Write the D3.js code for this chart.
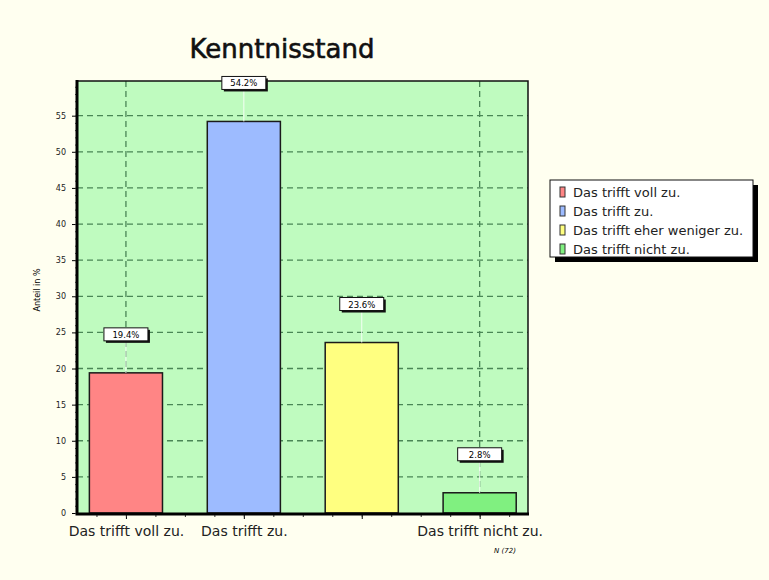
<!DOCTYPE html>
<html>
<head>
<meta charset="utf-8">
<script src="https://cdn.jsdelivr.net/npm/d3@7"></script>
<style>
  body { margin: 0; background: #fffff0; }
  svg { display: block; }
</style>
</head>
<body>
<svg width="769" height="580"></svg>
<script>
var categories = ["Das trifft voll zu.", "Das trifft zu.", "Das trifft eher weniger zu.", "Das trifft nicht zu."];
var axisLabels = ["Das trifft voll zu.", "Das trifft zu.", "", "Das trifft nicht zu."];
var values = [19.4, 54.2, 23.6, 2.8];
var colors = ["#ff8585", "#9dbbff", "#ffff80", "#80f080"];
var yTicks = [0, 5, 10, 15, 20, 25, 30, 35, 40, 45, 50, 55];

var svg = d3.select("svg");
var margin = {top: 81, right: 241, bottom: 67, left: 77},
    width = 769 - margin.left - margin.right,
    height = 580 - margin.top - margin.bottom;

var xScale = d3.scaleLinear().domain([0.585, 4.41]).range([0, width]);
var yScale = d3.scaleLinear().domain([0, 59.8]).range([height, 0]);
var barW = 0.62;

svg.append("rect").attr("width", 769).attr("height", 580).attr("fill", "#fffff0");

// title
svg.append("text")
    .attr("x", 282).attr("y", 58)
    .attr("text-anchor", "middle")
    .style("font-family", "DejaVu Sans, sans-serif")
    .style("font-size", "26px")
    .style("fill", "#111").style("stroke", "#111").style("stroke-width", 0.6)
    .text("Kenntnisstand");

var g = svg.append("g")
    .attr("transform", "translate(" + margin.left + "," + margin.top + ")");

g.append("rect")
    .attr("width", width).attr("height", height)
    .attr("fill", "#bffbbf");

// grid
g.selectAll(".hgrid")
    .data(yTicks.filter(function (d) {return d > 0;}))
    .enter().append("line")
    .attr("x1", 0).attr("x2", width)
    .attr("y1", function (d) {return yScale(d);})
    .attr("y2", function (d) {return yScale(d);})
    .attr("stroke", "#4a8656").attr("stroke-width", 1.3)
    .attr("stroke-dasharray", "6,4");

g.selectAll(".vgrid")
    .data([1, 4])
    .enter().append("line")
    .attr("x1", function (d) {return xScale(d);})
    .attr("x2", function (d) {return xScale(d);})
    .attr("y1", 0).attr("y2", height)
    .attr("stroke", "#4a8656").attr("stroke-width", 1.3)
    .attr("stroke-dasharray", "6,4");

// frame top/right
g.append("path")
    .attr("d", "M0,0H" + width + "V" + height)
    .attr("fill", "none").attr("stroke", "#111").attr("stroke-width", 1.5);

// bars
g.selectAll(".bar")
    .data(values)
    .enter().append("rect")
    .attr("x", function (d, i) {return xScale(i + 1 - barW / 2);})
    .attr("width", function () {return xScale(1 + barW) - xScale(1);})
    .attr("y", function (d) {return yScale(d);})
    .attr("height", function (d) {return height - yScale(d);})
    .attr("fill", function (d, i) {return colors[i];})
    .attr("stroke", "#1a1a1a").attr("stroke-width", 1.5);

// value labels
var lab = g.selectAll(".lab")
    .data(values)
    .enter().append("g")
    .attr("transform", function (d, i) {
        return "translate(" + xScale(i + 1) + "," + (yScale(d) - 38) + ")";
    });
lab.append("line")
    .attr("x1", 0).attr("x2", 0)
    .attr("y1", 7).attr("y2", 38)
    .attr("stroke", "#f4fff4").attr("stroke-width", 1);
lab.append("rect")
    .attr("x", -20).attr("y", -5).attr("width", 44).attr("height", 13)
    .attr("fill", "#111");
lab.append("rect")
    .attr("x", -22).attr("y", -7).attr("width", 44).attr("height", 13)
    .attr("fill", "#fff").attr("stroke", "#111").attr("stroke-width", 1);
lab.append("text")
    .attr("x", 0).attr("y", 3)
    .attr("text-anchor", "middle")
    .style("font-family", "DejaVu Sans, sans-serif")
    .style("font-size", "8.5px")
    .text(function (d) {return d.toFixed(1) + "%";});

// y axis
var yAxis = d3.axisLeft(yScale).tickValues(yTicks).tickSize(5).tickPadding(6);
var ya = g.append("g").call(yAxis);
ya.select(".domain").remove();
ya.selectAll("text")
    .style("font-family", "DejaVu Sans, sans-serif")
    .style("font-size", "8px").style("fill", "#222");
var yMinor = d3.axisLeft(yScale).tickValues(d3.range(0, 60, 1)).tickSize(2).tickFormat("");
var ym = g.append("g").call(yMinor);
ym.select(".domain").remove();
ym.selectAll("line").attr("stroke", "#555");

// x axis
var xAxis = d3.axisBottom(xScale).tickValues([1, 2, 3, 4]).tickSize(6).tickPadding(7)
    .tickFormat(function (d) {return axisLabels[d - 1];});
var xa = g.append("g").attr("transform", "translate(0," + height + ")").call(xAxis);
xa.select(".domain").remove();
xa.selectAll("text")
    .style("font-family", "DejaVu Sans, sans-serif")
    .style("font-size", "14px").style("fill", "#222");
var xMinor = d3.axisBottom(xScale).tickValues(d3.range(0.75, 4.4, 0.25)).tickSize(4).tickFormat("");
var xm = g.append("g").attr("transform", "translate(0," + height + ")").call(xMinor);
xm.select(".domain").remove();
xm.selectAll("line").attr("stroke", "#333");

// axis lines (thick)
g.append("path")
    .attr("d", "M0,-1V" + (height + 1) + "H" + (width + 1))
    .attr("fill", "none").attr("stroke", "#000").attr("stroke-width", 3);

// y label
svg.append("text")
    .attr("transform", "translate(40,290) rotate(-90)")
    .attr("text-anchor", "middle")
    .style("font-family", "DejaVu Sans, sans-serif")
    .style("font-size", "8px")
    .text("Anteil in %");

// N
svg.append("text")
    .attr("x", 505).attr("y", 553)
    .attr("text-anchor", "middle")
    .style("font-family", "DejaVu Sans, sans-serif")
    .style("font-size", "7px").style("font-style", "italic")
    .text("N (72)");

// legend
var lg = svg.append("g").attr("transform", "translate(550,180)");
lg.append("rect").attr("x", 5).attr("y", 5).attr("width", 203).attr("height", 77).attr("fill", "#000");
lg.append("rect").attr("x", 0).attr("y", 0).attr("width", 203).attr("height", 77)
    .attr("fill", "#fff").attr("stroke", "#111").attr("stroke-width", 1);
var li = lg.selectAll(".li")
    .data(categories)
    .enter().append("g")
    .attr("transform", function (d, i) {return "translate(10," + (12 + i * 19) + ")";});
li.append("rect")
    .attr("x", 0).attr("y", -5).attr("width", 5).attr("height", 10)
    .attr("fill", function (d, i) {return colors[i];})
    .attr("stroke", "#333").attr("stroke-width", 1);
li.append("text")
    .attr("x", 13).attr("y", 4.5)
    .style("font-family", "DejaVu Sans, sans-serif")
    .style("font-size", "13px").style("fill", "#222")
    .text(function (d) {return d;});
</script>
</body>
</html>
